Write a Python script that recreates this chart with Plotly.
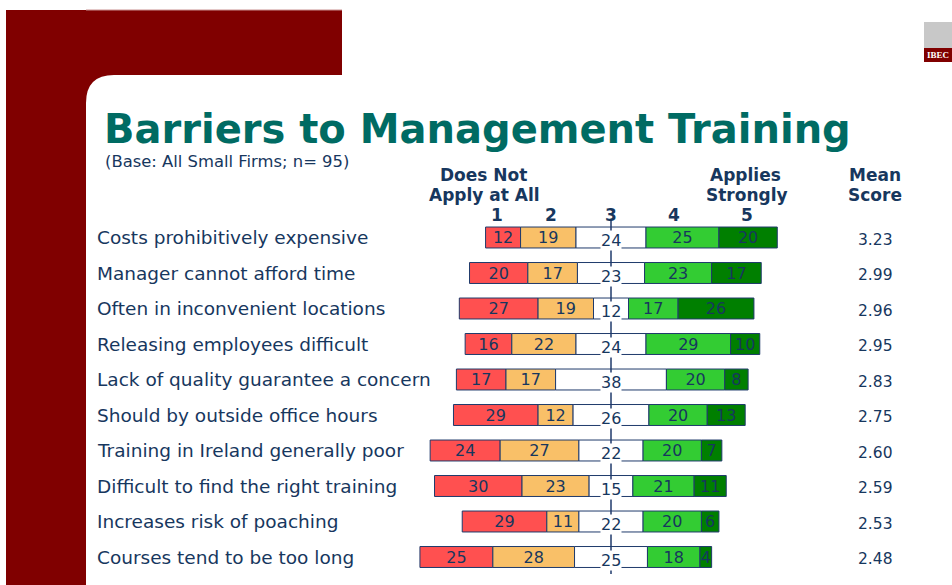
import plotly.graph_objects as go

# ---------------- data ----------------
categories = [
    "Costs prohibitively expensive",
    "Manager cannot afford time",
    "Often in inconvenient locations",
    "Releasing employees difficult",
    "Lack of quality guarantee a concern",
    "Should by outside office hours",
    "Training in Ireland generally poor",
    "Difficult to find the right training",
    "Increases risk of poaching",
    "Courses tend to be too long",
]
does_not_apply_1 = [12, 20, 27, 16, 17, 29, 24, 30, 29, 25]
score_2 = [19, 17, 19, 22, 17, 12, 27, 23, 11, 28]
neutral_3 = [24, 23, 12, 24, 38, 26, 22, 15, 22, 25]
score_4 = [25, 23, 17, 29, 20, 20, 20, 21, 20, 18]
applies_strongly_5 = [20, 17, 26, 10, 8, 13, 7, 11, 6, 4]
mean_scores = [3.23, 2.99, 2.96, 2.95, 2.83, 2.75, 2.60, 2.59, 2.53, 2.48]
scale_labels = ["1", "2", "3", "4", "5"]

# ---------------- styling ----------------
W, H = 952, 585
NAVY = "#17375E"
TEAL = "#006B63"
MAROON = "#800000"
FONT = "DejaVu Sans"
colors = ["#FF5050", "#F9C068", "#FFFFFF", "#33CC33", "#007F00"]

K = 2.917          # pixels per percentage point
X0 = 611.0         # pixel of the neutral midline
ROW0, ROWSTEP = 237.5, 35.5


def px(x):
    return x / W


def py(y):
    return 1 - y / H


series = [does_not_apply_1, score_2, neutral_3, score_4, applies_strongly_5]
n = len(categories)
ypos = list(range(n))

# left start of each diverging bar
starts = [-(a + b + c / 2.0) for a, b, c in zip(does_not_apply_1, score_2, neutral_3)]

fig = go.Figure()
base = starts[:]
for si, vals in enumerate(series):
    show_text = si != 2
    fig.add_trace(go.Bar(
        orientation="h",
        y=ypos,
        x=vals,
        base=base[:],
        width=0.59,
        marker=dict(color=colors[si], line=dict(color="#1F3A6B", width=1)),
        text=[str(v) for v in vals] if show_text else None,
        textposition="inside" if show_text else "none",
        insidetextanchor="middle",
        textangle=0,
        constraintext="none",
        textfont=dict(family=FONT, size=16, color=NAVY),
        hoverinfo="skip",
        showlegend=False,
    ))
    base = [b + v for b, v in zip(base, vals)]

annotations = []
# neutral values over the midline (white background hides the line)
for i, v in enumerate(neutral_3):
    annotations.append(dict(
        x=0, y=i, xref="x", yref="y", text=str(v), showarrow=False,
        xanchor="center", yanchor="middle", yshift=-3,
        font=dict(family=FONT, size=16, color=NAVY),
        bgcolor="#FFFFFF", borderpad=0,
    ))
# category labels
for i, c in enumerate(categories):
    annotations.append(dict(
        x=px(95), y=i, xref="paper", yref="y", text=c, showarrow=False,
        xanchor="left", yanchor="middle",
        font=dict(family=FONT, size=18.5, color=NAVY),
    ))
# mean scores
for i, m in enumerate(mean_scores):
    annotations.append(dict(
        x=px(875), y=i, xref="paper", yref="y", text=f"{m:.2f}", showarrow=False,
        xanchor="center", yanchor="middle", yshift=-2,
        font=dict(family=FONT, size=15.5, color=NAVY),
    ))


# header texts
def hdr(x, y, t, size=17):
    annotations.append(dict(
        x=px(x), y=py(y), xref="paper", yref="paper", text=t, showarrow=False,
        xanchor="center", yanchor="middle", borderpad=0,
        font=dict(family=FONT, size=size, color=NAVY),
    ))


hdr(483, 175, "<b>Does Not</b>")
hdr(484, 195, "<b>Apply at All</b>")
hdr(745, 175, "<b>Applies</b>")
hdr(747, 195, "<b>Strongly</b>")
hdr(875, 175, "<b>Mean</b>")
hdr(875, 195, "<b>Score</b>")
for lab, xx in zip(scale_labels, [497, 551, 611, 674, 747]):
    hdr(xx, 215, f"<b>{lab}</b>", 17)

# title + subtitle
annotations.append(dict(
    x=px(103), y=py(129), xref="paper", yref="paper",
    text="<b>Barriers to Management Training</b>", showarrow=False,
    xanchor="left", yanchor="middle", borderpad=0,
    font=dict(family=FONT, size=40, color=TEAL),
))
annotations.append(dict(
    x=px(104), y=py(161), xref="paper", yref="paper",
    text="(Base: All Small Firms; n= 95)", showarrow=False,
    xanchor="left", yanchor="middle", borderpad=0,
    font=dict(family=FONT, size=16.4, color=NAVY),
))
# logo text
annotations.append(dict(
    x=px(938), y=py(55), xref="paper", yref="paper",
    text="<b>IBEC</b>", showarrow=False, xanchor="center", yanchor="middle",
    font=dict(family="Liberation Serif", size=9, color="#FFFFFF"),
))

red_path = (
    f"M {px(6)},{py(10)} L {px(342)},{py(10)} L {px(342)},{py(75)} "
    f"L {px(114)},{py(75)} Q {px(86)},{py(75)} {px(86)},{py(103)} "
    f"L {px(86)},{py(585)} L {px(6)},{py(585)} Z"
)
shapes = [
    dict(type="path", path=red_path, xref="paper", yref="paper",
         fillcolor=MAROON, line=dict(width=0), layer="below"),
    dict(type="line", xref="paper", yref="paper", x0=px(86), x1=px(342),
         y0=py(10), y1=py(10), line=dict(color="#C89090", width=1), layer="below"),
    # logo
    dict(type="rect", xref="paper", yref="paper", x0=px(924), x1=px(952),
         y0=py(22), y1=py(48), fillcolor="#C8C8C8", line=dict(width=0), layer="below"),
    dict(type="rect", xref="paper", yref="paper", x0=px(924), x1=px(952),
         y0=py(48), y1=py(62), fillcolor=MAROON, line=dict(width=0), layer="below"),
    # neutral midline
    dict(type="line", xref="x", yref="paper", x0=0, x1=0,
         y0=py(221), y1=py(574), line=dict(color="#1F3A6B", width=1.5), layer="above"),
]

fig.update_layout(
    width=W, height=H,
    margin=dict(l=0, r=0, t=0, b=0),
    paper_bgcolor="#FFFFFF", plot_bgcolor="rgba(0,0,0,0)",
    barmode="overlay",
    xaxis=dict(range=[-X0 / K, (W - X0) / K], visible=False, fixedrange=True),
    yaxis=dict(range=[(H - ROW0) / ROWSTEP, -ROW0 / ROWSTEP], visible=False, fixedrange=True),
    annotations=annotations,
    shapes=shapes,
    showlegend=False,
)

fig.write_html("out.html", post_script="document.body.style.margin='0px';",
               config={"displayModeBar": False})
